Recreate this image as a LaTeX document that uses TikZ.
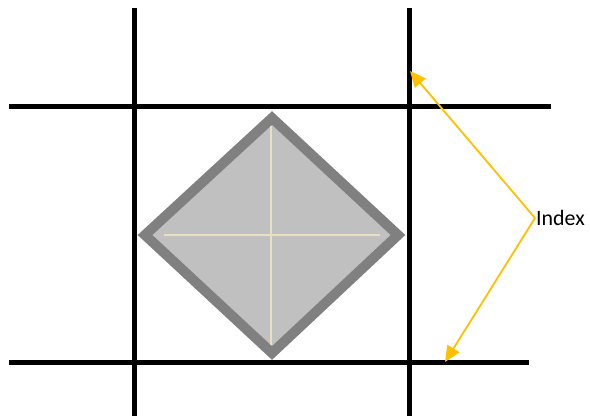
\documentclass[tikz,border=0pt]{standalone}
\usepackage{fontspec}
\setmainfont{Carlito}
\usetikzlibrary{arrows.meta,positioning}
\definecolor{frame}{HTML}{808080}
\definecolor{tile}{HTML}{C0C0C0}
\definecolor{cream}{HTML}{E8E0C2}
\definecolor{amber}{HTML}{FFC000}
\tikzset{
  gridline/.style={line width=5bp, black},
  pointer/.style={line width=1.8bp, amber, -{Triangle[length=16bp, width=14bp]}}
}
\begin{document}
\begin{tikzpicture}[x=1bp, y=-1bp]
  \useasboundingbox (0,0) rectangle (590,416);
  % grid lines
  \draw[gridline] (134,8) -- (134,416);
  \draw[gridline] (409,8) -- (409,416);
  \draw[gridline] (9,106) -- (551,106);
  \draw[gridline] (9,362) -- (529,362);
  % diamond
  \coordinate (top) at (272,118);
  \coordinate (bot) at (272,353);
  \coordinate (lft) at (145,235);
  \coordinate (rgt) at (398,235);
  \filldraw[fill=tile, draw=frame, line width=10bp, line join=miter] (top) -- (rgt) -- (bot) -- (lft) -- cycle;
  \draw[cream, line width=1.8bp] (164,235) -- (380,235);
  \draw[cream, line width=1.8bp] (271,126) -- (271,345);
  % label and pointers
  \node[font=\fontsize{22}{26}\selectfont, inner sep=1bp, anchor=west] (index) at (535,218) {Index};
  \coordinate (upper) at (410,71);
  \coordinate (lower) at (445,362);
  \draw[pointer] (index.west) -- (upper);
  \draw[pointer] (index.west) -- (lower);
\end{tikzpicture}
\end{document}
